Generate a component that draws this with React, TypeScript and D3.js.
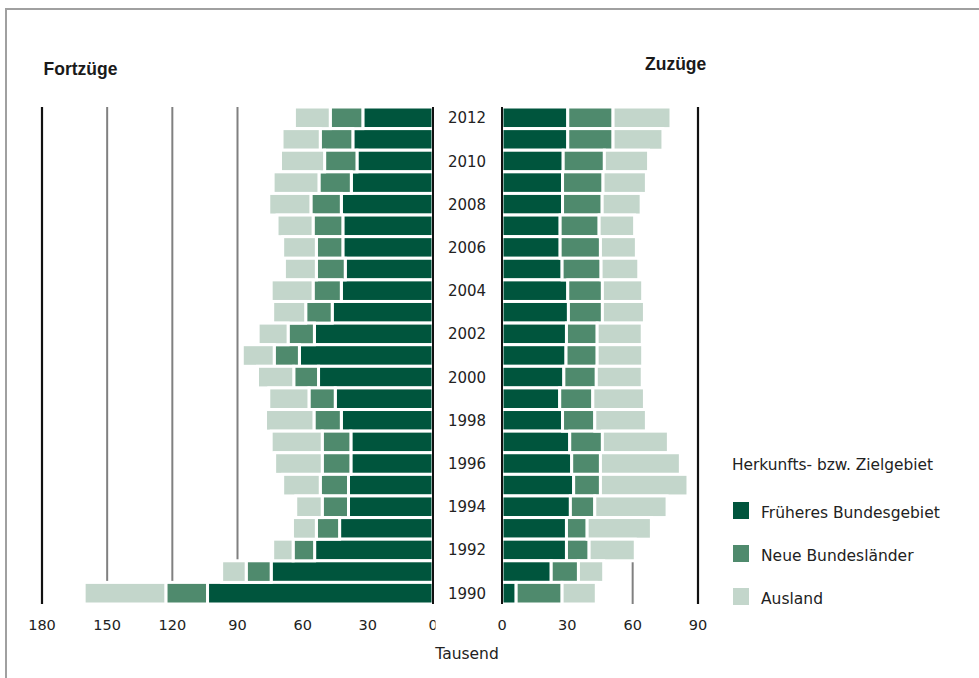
import React from "react";
import * as d3 from "d3";

const years = [2012, 2011, 2010, 2009, 2008, 2007, 2006, 2005, 2004, 2003, 2002, 2001, 2000, 1999, 1998, 1997, 1996, 1995, 1994, 1993, 1992, 1991, 1990];
const yearLabels = [2012, 2010, 2008, 2006, 2004, 2002, 2000, 1998, 1996, 1994, 1992, 1990];

// Fortzüge (thousand)
const fortFrueher = [32.3, 36.9, 35.0, 37.6, 42.2, 41.5, 41.5, 40.4, 42.2, 46.4, 54.6, 61.5, 52.7, 45.0, 42.2, 37.8, 37.8, 38.9, 38.9, 43.0, 54.5, 74.5, 103.8];
const fortNeue = [15.0, 15.0, 14.9, 14.9, 14.0, 13.7, 12.2, 13.3, 13.0, 12.2, 12.1, 11.6, 11.4, 12.1, 12.6, 13.2, 13.2, 13.0, 12.1, 10.7, 9.9, 11.5, 19.2];
const fortAusland = [16.5, 17.6, 20.3, 21.1, 19.4, 16.6, 15.5, 14.7, 19.3, 15.2, 13.8, 14.7, 16.7, 18.5, 22.3, 23.5, 21.9, 17.3, 12.2, 11.0, 9.4, 11.3, 37.6];

// Zuzüge (thousand)
const zuFrueher = [30.2, 30.2, 28.1, 27.8, 27.8, 26.7, 26.7, 27.6, 30.2, 30.5, 29.6, 29.4, 28.4, 26.5, 27.8, 31.1, 32.0, 32.9, 31.4, 29.6, 29.6, 22.6, 6.5];
const zuNeue = [20.8, 20.8, 18.9, 18.6, 18.2, 17.9, 18.5, 17.9, 15.9, 15.6, 14.1, 14.3, 14.9, 15.2, 14.8, 15.0, 13.2, 12.3, 11.2, 9.5, 10.4, 12.5, 21.1];
const zuAusland = [26.6, 22.9, 20.3, 19.9, 17.9, 16.3, 16.5, 17.3, 18.5, 19.3, 20.7, 20.9, 21.1, 23.7, 23.7, 30.3, 36.7, 40.2, 33.2, 29.5, 21.2, 11.6, 15.7];

const leftTicks = [180, 150, 120, 90, 60, 30, 0];
const rightTicks = [0, 30, 60, 90];
const seriesNames = ["Früheres Bundesgebiet", "Neue Bundesländer", "Ausland"];
const colors = ["#00553d", "#4f8a6d", "#c3d6cb"];

const FONT = "'DejaVu Sans', Verdana, sans-serif";
const TFONT = "'Liberation Sans', Arial, sans-serif";

export default function App() {
  const xL = d3.scaleLinear().domain([0, 180]).range([433, 42]);
  const xR = d3.scaleLinear().domain([0, 90]).range([502, 698]);
  const y = d3.scaleBand<number>().domain(years).range([107, 604]).padding(0);

  const keys = ["a", "b", "c"];
  const fortRows = years.map((yr, i) => ({ year: yr, a: fortFrueher[i], b: fortNeue[i], c: fortAusland[i] }));
  const zuRows = years.map((yr, i) => ({ year: yr, a: zuFrueher[i], b: zuNeue[i], c: zuAusland[i] }));
  const stack = d3.stack<any>().keys(keys);
  const fortStack = stack(fortRows);
  const zuStack = stack(zuRows);

  const bh = y.bandwidth();

  return (
    <div style={{ position: "absolute", left: 0, top: 0 }}>
      <svg width={979} height={678} style={{ display: "block", background: "#fff" }}>
        <defs>
          <clipPath id="clipZero">
            <rect x={0} y={0} width={435.5} height={678} />
          </clipPath>
        </defs>
        <path d="M6,678 V9 H979" fill="none" stroke="#a0a0a0" strokeWidth={2} />

        <text x={43.5} y={75} fontFamily={TFONT} fontWeight="bold" fontSize={17.5} fill="#1a1a1a">Fortzüge</text>
        <text x={645} y={70} fontFamily={TFONT} fontWeight="bold" fontSize={17.5} fill="#1a1a1a">Zuzüge</text>

        {/* gridlines left */}
        {[150, 120, 90, 60, 30].map((t) => (
          <line key={"gl" + t} x1={xL(t)} x2={xL(t)} y1={107} y2={604} stroke="#808080" strokeWidth={2} />
        ))}
        <line x1={xL(180)} x2={xL(180)} y1={107} y2={604} stroke="#111" strokeWidth={2.2} />
        {/* gridlines right */}
        {[30, 60].map((t) => (
          <line key={"gr" + t} x1={xR(t)} x2={xR(t)} y1={107} y2={604} stroke="#808080" strokeWidth={2} />
        ))}
        <line x1={xR(90)} x2={xR(90)} y1={107} y2={604} stroke="#111" strokeWidth={2.2} />

        {/* left bars */}
        {fortStack.map((s, si) => (
          <g key={"fs" + si} fill={colors[si]} stroke="#fff" strokeWidth={3}>
            {s.map((d: any, i: number) => (
              <rect key={i} x={xL(d[1])} y={y(d.data.year)} width={xL(d[0]) - xL(d[1])} height={bh} />
            ))}
          </g>
        ))}
        {/* right bars */}
        {zuStack.map((s, si) => (
          <g key={"zs" + si} fill={colors[si]} stroke="#fff" strokeWidth={3}>
            {s.map((d: any, i: number) => (
              <rect key={i} x={xR(d[0])} y={y(d.data.year)} width={xR(d[1]) - xR(d[0])} height={bh} />
            ))}
          </g>
        ))}

        <line x1={xL(0)} x2={xL(0)} y1={107} y2={604} stroke="#111" strokeWidth={2} />
        <line x1={xR(0)} x2={xR(0)} y1={107} y2={604} stroke="#111" strokeWidth={2} />

        {/* year labels */}
        {yearLabels.map((yr) => (
          <text key={"yl" + yr} x={467} y={(y(yr) as number) + bh / 2 + 5.5} textAnchor="middle" fontFamily={FONT} fontSize={15} fill="#222">{yr}</text>
        ))}

        {/* tick labels */}
        {leftTicks.map((t) => (
          <text key={"lt" + t} x={xL(t)} y={630} textAnchor="middle" fontFamily={FONT} fontSize={14.5} fill="#222" clipPath={t === 0 ? "url(#clipZero)" : undefined}>{t}</text>
        ))}
        {rightTicks.map((t) => (
          <text key={"rt" + t} x={xR(t)} y={630} textAnchor="middle" fontFamily={FONT} fontSize={14.5} fill="#222">{t}</text>
        ))}
        <text x={467} y={659} textAnchor="middle" fontFamily={FONT} fontSize={15.5} fill="#222">Tausend</text>

        {/* legend */}
        <text x={732} y={470} fontFamily={FONT} fontSize={15.4} fill="#222">Herkunfts- bzw. Zielgebiet</text>
        {seriesNames.map((n, i) => (
          <g key={"lg" + i}>
            <rect x={733} y={502 + i * 43} width={16} height={17} fill={colors[i]} />
            <text x={761} y={518 + i * 43} fontFamily={FONT} fontSize={15.5} fill="#222">{n}</text>
          </g>
        ))}
      </svg>
    </div>
  );
}
